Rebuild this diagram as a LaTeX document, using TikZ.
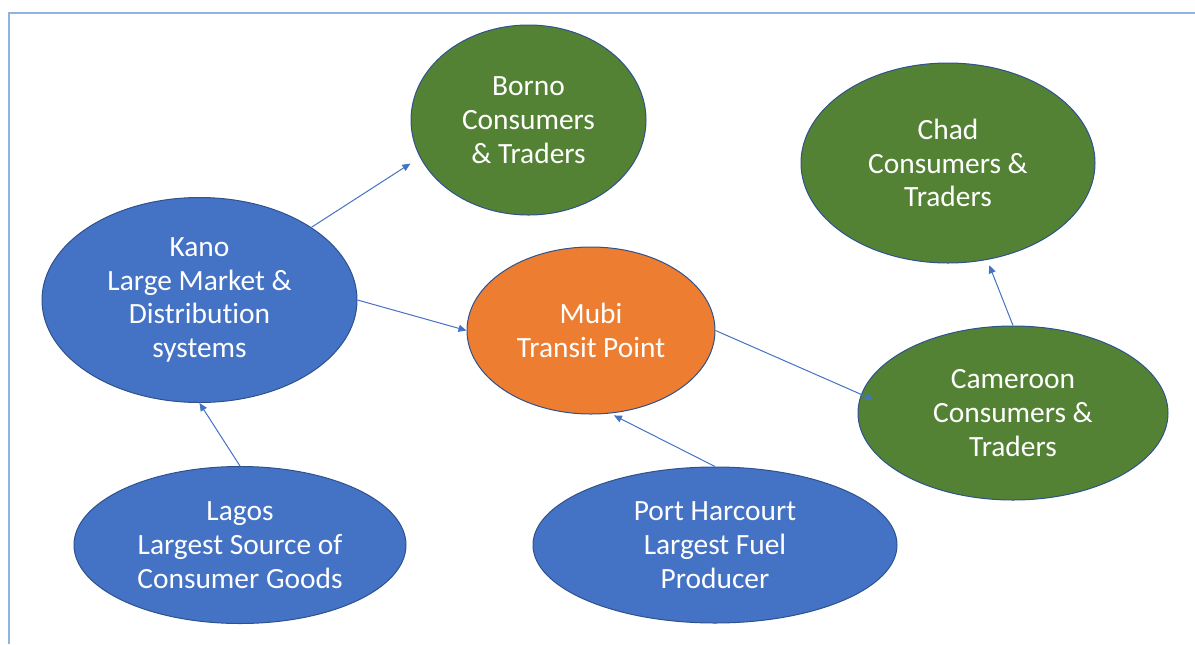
\documentclass[tikz,border=0pt]{standalone}
\usepackage{fontspec}
\setmainfont{Carlito}[RawFeature={-liga;-clig;-dlig;-calt}]
\usetikzlibrary{shapes.geometric,arrows.meta}
\definecolor{ppblue}{HTML}{4472C4}
\definecolor{ppgreen}{HTML}{548235}
\definecolor{pporange}{HTML}{ED7D31}
\definecolor{ppedge}{HTML}{2F528F}
\definecolor{ppframe}{HTML}{8EB4E3}
\begin{document}
\begin{tikzpicture}[x=0.5pt,y=-0.5pt,
    >={Triangle[length=4pt,width=3.5pt]},
    place/.style={ellipse, draw=ppedge, line width=0.5pt, inner sep=0pt,
      text=white, align=center, font=\fontsize{14.7}{16.85}\selectfont},
    flow/.style={->, draw=ppblue, line width=0.5pt}]
\useasboundingbox (0,0) rectangle (1195,644);
\draw[ppframe, line width=1pt] (1195,13) -- (9,13) -- (9,644);
% places
\node[place, fill=ppgreen, minimum width=117.5pt, minimum height=95pt] (borno) at (528.5,120) {Borno\\Consumers\\\& Traders};
\node[place, fill=ppgreen, minimum width=147pt, minimum height=100pt] (chad) at (948,163) {Chad\\Consumers \&\\Traders};
\node[place, fill=ppblue, minimum width=157.5pt, minimum height=102.5pt] (kano) at (199.5,300) {Kano\\Large Market \&\\Distribu\kern0pt tion\\systems};
\node[place, fill=pporange, minimum width=124pt, minimum height=83.5pt] (mubi) at (591,330.5) {Mubi\\Transit Point};
\node[place, fill=ppgreen, minimum width=155pt, minimum height=87pt] (cameroon) at (1013,413) {Cameroon\\Consumers \&\\Traders};
\node[place, fill=ppblue, minimum width=166pt, minimum height=78.5pt] (lagos) at (240,545) {Lagos\\Largest Source of\\Consumer Goods};
\node[place, fill=ppblue, minimum width=182pt, minimum height=78pt] (port) at (715,545) {Port Harcourt\\Largest Fuel\\Producer};
% flows
\draw[flow, shorten >=5.7pt] (kano.33.5) -- (borno.199.4);
\draw[flow] (kano.east) -- (mubi.west);
\draw[flow] (lagos.north) -- (kano.south);
\draw[flow, shorten >=2.1pt] (port.north) -- (mubi.283.6);
\draw[flow, shorten >=-6.7pt] (mubi.east) -- (cameroon.173.8);
\draw[flow, shorten >=2.9pt] (cameroon.north) -- (chad.292.6);
\end{tikzpicture}
\end{document}
